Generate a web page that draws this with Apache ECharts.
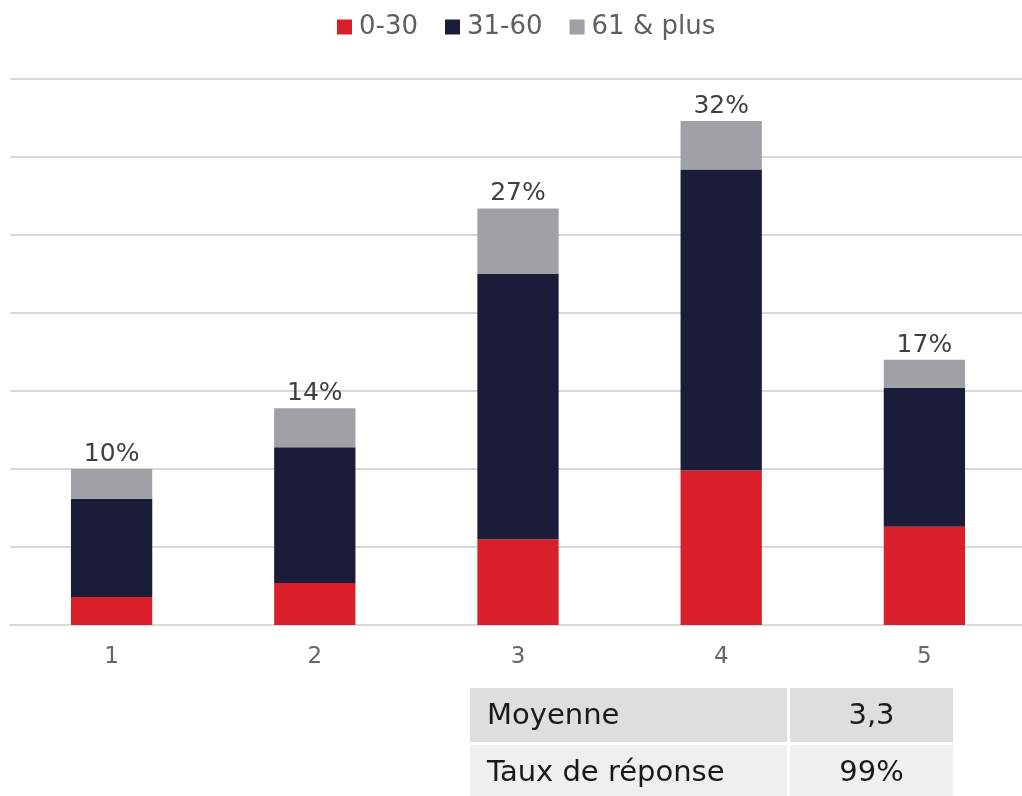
<!DOCTYPE html>
<html>
<head>
<meta charset="utf-8">
<script src="https://cdn.jsdelivr.net/npm/echarts@6/dist/echarts.min.js"></script>
<style>
  html, body { margin: 0; padding: 0; background: #fff; }
  #chart { width: 1022px; height: 796px; }
</style>
</head>
<body>
<div id="chart"></div>
<script>
// données (% de répondants)
const categories = ['1', '2', '3', '4', '5'];
const seriesNames = ['0-30', '31-60', '61 & plus'];
const age0to30 = [1.8, 2.7, 5.5, 9.9, 6.3];
const age31to60 = [6.3, 8.7, 17.0, 19.3, 8.9];
const age61plus = [1.9, 2.5, 4.2, 3.1, 1.8];
const tableRows = [['Moyenne', '3,3'], ['Taux de réponse', '99%']];

const FONT = '"DejaVu Sans", sans-serif';
const colors = ['#d9202a', '#1b1b3a', '#a0a1a5'];

// total au-dessus de chaque barre
const totals = categories.map((c, i) => age0to30[i] + age31to60[i] + age61plus[i]);

let myChart = echarts.init(document.getElementById('chart'));

let option = {
  animation: false,
  color: colors,
  textStyle: { fontFamily: FONT },
  legend: {
    top: 9,
    left: 332,
    itemWidth: 15,
    itemHeight: 15,
    itemGap: 27,
    icon: 'rect',
    textStyle: { fontSize: 26, color: '#5f5f5f', fontFamily: FONT, padding: [0, 0, 0, 2] },
    data: seriesNames
  },
  grid: { left: 10, width: 1016, top: 79, bottom: 171, outerBoundsMode: 'none', containLabel: false },
  xAxis: {
    type: 'category',
    data: categories,
    axisLine: { lineStyle: { color: '#d9d9d9', width: 2 } },
    axisTick: { show: false },
    axisLabel: { color: '#666666', fontSize: 23, margin: 21, fontFamily: FONT }
  },
  yAxis: {
    type: 'value',
    min: 0,
    max: 35,
    interval: 5,
    axisLabel: { show: false },
    axisLine: { show: false },
    axisTick: { show: false },
    splitLine: { lineStyle: { color: '#d9d9d9', width: 2 } }
  },
  series: [
    { name: seriesNames[0], type: 'bar', stack: 'age', barWidth: '40%', data: age0to30 },
    { name: seriesNames[1], type: 'bar', stack: 'age', data: age31to60 },
    {
      name: seriesNames[2], type: 'bar', stack: 'age', data: age61plus,
      label: {
        show: true,
        position: 'top',
        distance: 2,
        color: '#404040',
        fontSize: 25,
        fontFamily: FONT,
        formatter: p => Math.round(totals[p.dataIndex]) + '%'
      }
    }
  ],
  graphic: []
};

// petit tableau sous le graphique
const tblX = [470, 790], tblW = [317, 163], rowY = [688, 745], rowH = [54, 54];
const rowBg = ['#dedede', '#efefef'];
tableRows.forEach((row, r) => {
  row.forEach((txt, c) => {
    option.graphic.push({
      type: 'rect',
      shape: { x: tblX[c], y: rowY[r], width: tblW[c], height: rowH[r] },
      style: { fill: rowBg[r] },
      silent: true
    });
    option.graphic.push({
      type: 'text',
      x: c === 0 ? tblX[c] + 17 : tblX[c] + tblW[c] / 2,
      y: rowY[r] + 28,
      style: {
        text: txt,
        fill: '#1a1a1a',
        font: '29px ' + FONT,
        textAlign: c === 0 ? 'left' : 'center',
        textVerticalAlign: 'middle'
      },
      silent: true
    });
  });
});

window.onresize = myChart.resize;
myChart.setOption(option);
</script>
</body>
</html>
